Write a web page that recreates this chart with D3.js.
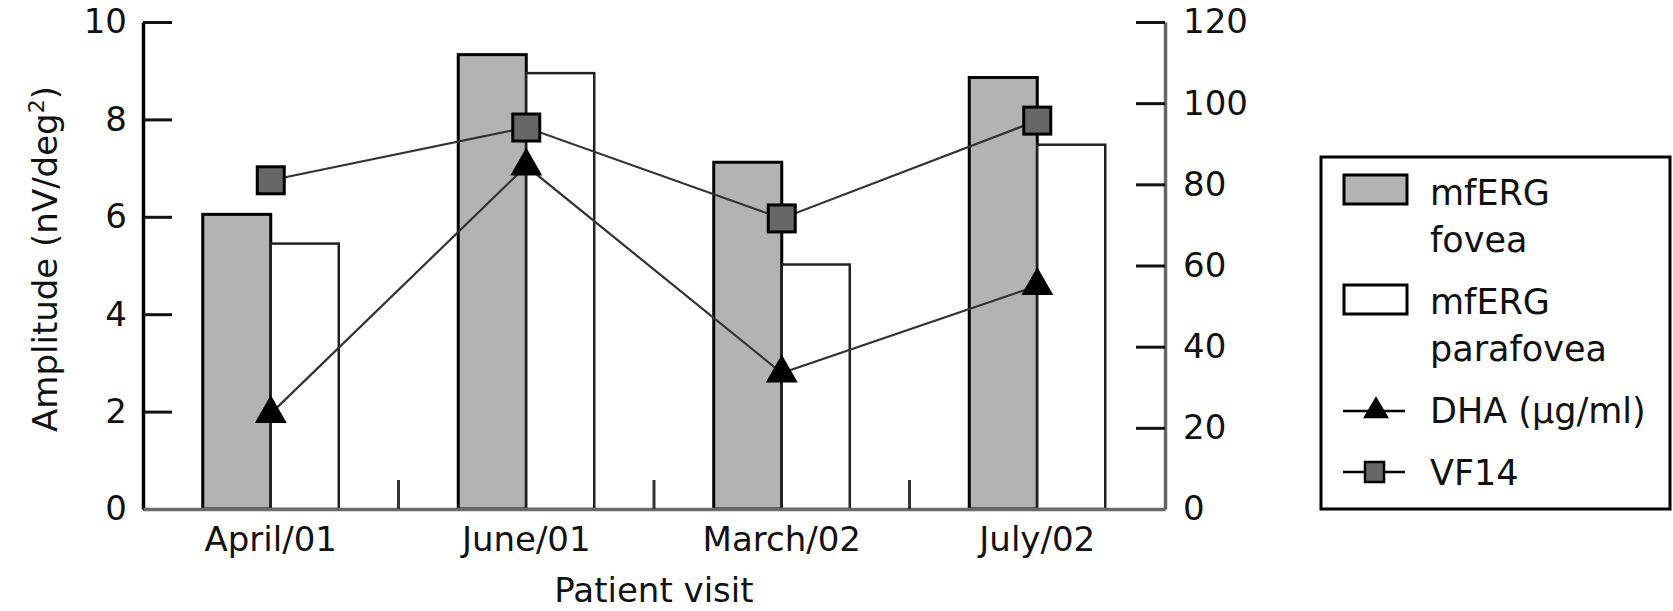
<!DOCTYPE html>
<html>
<head>
<meta charset="utf-8">
<script src="https://cdn.jsdelivr.net/npm/d3@7"></script>
<style>
  html, body { margin: 0; padding: 0; background: #fff; }
  svg text { font-family: "DejaVu Sans", sans-serif; fill: #111; }
</style>
</head>
<body>
<svg id="chart" width="1673" height="611"></svg>
<script>
// Patient visits and measured values
const visits = ["April/01", "June/01", "March/02", "July/02"];
const foveaAmp = [6.05, 9.33, 7.12, 8.86];       // mfERG fovea, nV/deg²
const parafoveaAmp = [5.45, 8.95, 5.02, 7.48];   // mfERG parafovea, nV/deg²
const dha = [23.5, 84.5, 33.5, 55];              // DHA, µg/ml (right axis)
const vf14 = [81, 94, 71.6, 95.7];               // VF14 score (right axis)
const leftTicks = [0, 2, 4, 6, 8, 10];
const rightTicks = [0, 20, 40, 60, 80, 100, 120];

const svg = d3.select("#chart");
const X0 = 143, X1 = 1165, Y0 = 509, Y1 = 22;
const FONT = 34;

const x = d3.scaleBand().domain(visits).range([X0, X1]).paddingInner(0).paddingOuter(0);
const yL = d3.scaleLinear().domain([0, 10]).range([Y0, Y1]);
const yR = d3.scaleLinear().domain([0, 120]).range([Y0, Y1]);
const barW = 68;
const cx = v => x(v) + x.bandwidth() / 2;

// Bars
const bars = svg.append("g");
bars.selectAll("rect.fovea").data(visits).join("rect")
  .attr("class", "fovea")
  .attr("x", v => cx(v) - barW)
  .attr("y", (v, i) => yL(foveaAmp[i]))
  .attr("width", barW)
  .attr("height", (v, i) => Y0 - yL(foveaAmp[i]))
  .attr("fill", "#b3b3b3").attr("stroke", "#000").attr("stroke-width", 3);
bars.selectAll("rect.para").data(visits).join("rect")
  .attr("class", "para")
  .attr("x", v => cx(v))
  .attr("y", (v, i) => yL(parafoveaAmp[i]))
  .attr("width", barW)
  .attr("height", (v, i) => Y0 - yL(parafoveaAmp[i]))
  .attr("fill", "#fff").attr("stroke", "#222").attr("stroke-width", 2.5);

// Left axis
const axL = svg.append("g").attr("transform", `translate(${X0},0)`)
  .call(d3.axisLeft(yL).tickValues(leftTicks).tickFormat(d3.format("d"))
    .tickSizeInner(-29).tickSizeOuter(0).tickPadding(16));
axL.select(".domain").attr("stroke", "#000").attr("stroke-width", 3.5);
axL.selectAll(".tick line").attr("stroke", "#111").attr("stroke-width", 3);
axL.selectAll(".tick text").attr("font-size", FONT).attr("font-family", "DejaVu Sans").attr("fill", "#111");

// Right axis
const axR = svg.append("g").attr("transform", `translate(${X1},0)`)
  .call(d3.axisRight(yR).tickValues(rightTicks).tickFormat(d3.format("d"))
    .tickSizeInner(-29).tickSizeOuter(0).tickPadding(18));
axR.select(".domain").attr("stroke", "#666").attr("stroke-width", 3.5);
axR.selectAll(".tick line").attr("stroke", "#111").attr("stroke-width", 3);
axR.selectAll(".tick text").attr("font-size", FONT).attr("font-family", "DejaVu Sans").attr("fill", "#111");

// Bottom axis: category labels centred in each band, dividers between bands
const axB = svg.append("g").attr("transform", `translate(0,${Y0})`)
  .call(d3.axisBottom(x).tickSize(0).tickPadding(18));
axB.select(".domain").attr("stroke", "#6a6a6a").attr("stroke-width", 3.5);
axB.selectAll(".tick text").attr("font-size", FONT).attr("font-family", "DejaVu Sans").attr("fill", "#111");
svg.append("g").selectAll("line").data(visits.slice(1)).join("line")
  .attr("x1", v => x(v)).attr("x2", v => x(v))
  .attr("y1", Y0).attr("y2", Y0 - 29)
  .attr("stroke", "#333").attr("stroke-width", 3);

// Lines
const lineR = d3.line().x((d, i) => cx(visits[i])).y(d => yR(d));
svg.append("path").datum(dha).attr("d", lineR)
  .attr("fill", "none").attr("stroke", "#333").attr("stroke-width", 2.2);
svg.append("path").datum(vf14).attr("d", lineR)
  .attr("fill", "none").attr("stroke", "#333").attr("stroke-width", 2.2);

// Markers
function triPath(w, h) {
  // triangle with centroid at origin
  return `M0,${-2 * h / 3}L${w / 2},${h / 3}L${-w / 2},${h / 3}Z`;
}
svg.append("g").selectAll("path").data(dha).join("path")
  .attr("d", triPath(32, 28))
  .attr("transform", (d, i) => `translate(${cx(visits[i])},${yR(d)})`)
  .attr("fill", "#000");
const SQ = 27;
svg.append("g").selectAll("rect").data(vf14).join("rect")
  .attr("x", (d, i) => cx(visits[i]) - SQ / 2)
  .attr("y", d => yR(d) - SQ / 2)
  .attr("width", SQ).attr("height", SQ)
  .attr("fill", "#676767").attr("stroke", "#000").attr("stroke-width", 3);

// Axis titles
svg.append("text")
  .attr("x", (X0 + X1) / 2).attr("y", 602)
  .attr("text-anchor", "middle").attr("font-size", FONT)
  .text("Patient visit");
const yt = svg.append("text")
  .attr("transform", "translate(57,259) rotate(-90)")
  .attr("text-anchor", "middle").attr("font-size", FONT);
yt.append("tspan").text("Amplitude (nV/deg");
yt.append("tspan").attr("font-size", 22).attr("dy", -13).text("2");
yt.append("tspan").attr("dy", 13).text(")");

// Legend
const LF = 35;
const lg = svg.append("g");
lg.append("rect").attr("x", 1321).attr("y", 157).attr("width", 349).attr("height", 352)
  .attr("fill", "#fff").attr("stroke", "#000").attr("stroke-width", 3);
lg.append("rect").attr("x", 1344).attr("y", 175).attr("width", 63).attr("height", 29)
  .attr("fill", "#b3b3b3").attr("stroke", "#000").attr("stroke-width", 3);
lg.append("rect").attr("x", 1344).attr("y", 285).attr("width", 63).attr("height", 29)
  .attr("fill", "#fff").attr("stroke", "#000").attr("stroke-width", 3);
const legText = [["mfERG", 205], ["fovea", 252], ["mfERG", 314], ["parafovea", 361], ["DHA (\u00b5g/ml)", 423], ["VF14", 485]];
lg.selectAll("text").data(legText).join("text")
  .attr("x", 1430).attr("y", d => d[1]).attr("font-size", LF).text(d => d[0]);
lg.append("line").attr("x1", 1343).attr("x2", 1405).attr("y1", 411).attr("y2", 411)
  .attr("stroke", "#000").attr("stroke-width", 2.5);
lg.append("path").attr("d", triPath(26, 22)).attr("transform", "translate(1376,411)").attr("fill", "#000");
lg.append("line").attr("x1", 1343).attr("x2", 1405).attr("y1", 472).attr("y2", 472)
  .attr("stroke", "#000").attr("stroke-width", 2.5);
lg.append("rect").attr("x", 1365).attr("y", 462).attr("width", 19).attr("height", 20)
  .attr("fill", "#676767").attr("stroke", "#000").attr("stroke-width", 2.5);
</script>
</body>
</html>
